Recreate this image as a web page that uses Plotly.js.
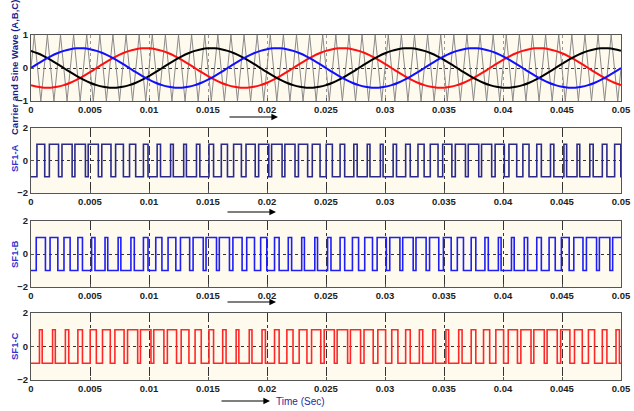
<!DOCTYPE html>
<html>
<head>
<meta charset="utf-8">
<script src="https://cdn.plot.ly/plotly-3.0.1.min.js"></script>
<style>html,body{margin:0;padding:0;background:#fff;}#chart{width:634px;height:411px;}</style>
</head>
<body>
<div id="chart"></div>
<script>
// ---- data ----
// time span of every panel (s) and the tick labels of the x axes
const xTicks = [0, 0.005, 0.01, 0.015, 0.02, 0.025, 0.03, 0.035, 0.04, 0.045, 0.05];
const xTickLabels = ['0', '0.005', '0.01', '0.015', '0.02', '0.025', '0.03', '0.035', '0.04', '0.045', '0.05'];
const sineStep = 0.05 / 90;
const sineA = [0,0.125,0.244,0.353,0.446,0.52,0.571,0.597,0.597,0.571,0.52,0.446,0.353,0.244,0.125,0,-0.125,-0.244,-0.353,-0.446,-0.52,-0.571,-0.597,-0.597,-0.571,-0.52,-0.446,-0.353,-0.244,-0.125,
 0,0.125,0.244,0.353,0.446,0.52,0.571,0.597,0.597,0.571,0.52,0.446,0.353,0.244,0.125,0,-0.125,-0.244,-0.353,-0.446,-0.52,-0.571,-0.597,-0.597,-0.571,-0.52,-0.446,-0.353,-0.244,-0.125,
 0,0.125,0.244,0.353,0.446,0.52,0.571,0.597,0.597,0.571,0.52,0.446,0.353,0.244,0.125,0,-0.125,-0.244,-0.353,-0.446,-0.52,-0.571,-0.597,-0.597,-0.571,-0.52,-0.446,-0.353,-0.244,-0.125,0];
const sineB = [0.52,0.446,0.353,0.244,0.125,0,-0.125,-0.244,-0.353,-0.446,-0.52,-0.571,-0.597,-0.597,-0.571,-0.52,-0.446,-0.353,-0.244,-0.125,0,0.125,0.244,0.353,0.446,0.52,0.571,0.597,0.597,0.571,
 0.52,0.446,0.353,0.244,0.125,0,-0.125,-0.244,-0.353,-0.446,-0.52,-0.571,-0.597,-0.597,-0.571,-0.52,-0.446,-0.353,-0.244,-0.125,0,0.125,0.244,0.353,0.446,0.52,0.571,0.597,0.597,0.571,
 0.52,0.446,0.353,0.244,0.125,0,-0.125,-0.244,-0.353,-0.446,-0.52,-0.571,-0.597,-0.597,-0.571,-0.52,-0.446,-0.353,-0.244,-0.125,0,0.125,0.244,0.353,0.446,0.52,0.571,0.597,0.597,0.571,0.52];
const sineC = [-0.52,-0.571,-0.597,-0.597,-0.571,-0.52,-0.446,-0.353,-0.244,-0.125,0,0.125,0.244,0.353,0.446,0.52,0.571,0.597,0.597,0.571,0.52,0.446,0.353,0.244,0.125,0,-0.125,-0.244,-0.353,-0.446,
 -0.52,-0.571,-0.597,-0.597,-0.571,-0.52,-0.446,-0.353,-0.244,-0.125,0,0.125,0.244,0.353,0.446,0.52,0.571,0.597,0.597,0.571,0.52,0.446,0.353,0.244,0.125,0,-0.125,-0.244,-0.353,-0.446,
 -0.52,-0.571,-0.597,-0.597,-0.571,-0.52,-0.446,-0.353,-0.244,-0.125,0,0.125,0.244,0.353,0.446,0.52,0.571,0.597,0.597,0.571,0.52,0.446,0.353,0.244,0.125,0,-0.125,-0.244,-0.353,-0.446,-0.52];
// triangular carrier: 45 periods in 0.05 s, swinging between +1 and -1, starting at 0
const carrierPeriod = 0.05 / 45;
const carrierHigh = 1;
const carrierLow = -1;
// width (microseconds) of the +1 pulse in each carrier period, per switching function
const widthA = [659,779,860,889,860,779,659,521,389,286,230,230,286,389,521,
                659,779,860,889,860,779,659,521,389,286,230,230,286,389,521,
                659,779,860,889,860,779,659,521,389,286,230,230,286,389,521];
const widthB = [779,659,521,389,286,230,230,286,389,521,659,779,860,889,860,
                779,659,521,389,286,230,230,286,389,521,659,779,860,889,860,
                779,659,521,389,286,230,230,286,389,521,659,779,860,889,860];
const widthC = [230,230,286,389,521,659,779,860,889,860,779,659,521,389,286,
                230,230,286,389,521,659,779,860,889,860,779,659,521,389,286,
                230,230,286,389,521,659,779,860,889,860,779,659,521,389,286];
const swHigh = 1, swLow = -1;

// ---- build traces ----
const tSine = sineA.map((_, i) => i * sineStep);
const cx = [0], cy = [0];
for (let j = 0; j < 90; j++) {
  cx.push(carrierPeriod / 4 + j * carrierPeriod / 2);
  cy.push(j % 2 === 0 ? carrierHigh : carrierLow);
}
cx.push(0.05); cy.push(0);

function pwm(widths) {
  const x = [0], y = [swLow];
  widths.forEach((w, k) => {
    const c = (k + 0.75) * carrierPeriod;
    const h = w * 1e-6 / 2;
    x.push(c - h, c - h, c + h, c + h);
    y.push(swLow, swHigh, swHigh, swLow);
  });
  x.push(0.05); y.push(swLow);
  return {x, y};
}
const pA = pwm(widthA), pB = pwm(widthB), pC = pwm(widthC);

const traces = [
  {x: cx, y: cy, xaxis: 'x', yaxis: 'y', mode: 'lines', line: {color: '#8a8a8a', width: 1}},
  {x: tSine, y: sineC, xaxis: 'x', yaxis: 'y', mode: 'lines', line: {color: '#ff1010', width: 2, shape: 'spline'}},
  {x: tSine, y: sineB, xaxis: 'x', yaxis: 'y', mode: 'lines', line: {color: '#000000', width: 2, shape: 'spline'}},
  {x: tSine, y: sineA, xaxis: 'x', yaxis: 'y', mode: 'lines', line: {color: '#1010ff', width: 2, shape: 'spline'}},
  {x: pA.x, y: pA.y, xaxis: 'x2', yaxis: 'y2', mode: 'lines', line: {color: '#2a2a8c', width: 1.6}},
  {x: pB.x, y: pB.y, xaxis: 'x3', yaxis: 'y3', mode: 'lines', line: {color: '#1e1ef5', width: 1.6}},
  {x: pC.x, y: pC.y, xaxis: 'x4', yaxis: 'y4', mode: 'lines', line: {color: '#ff2828', width: 1.6}}
];

const tickFont = {family: 'Liberation Sans Narrow, Arial Narrow, Liberation Sans, Arial', size: 9.5, color: '#222', weight: 'bold'};
function xax(anchor, gc, gd) {
  return {anchor: anchor, range: [0, 0.05], tickvals: xTicks, ticktext: xTickLabels, tickfont: tickFont,
    showline: true, mirror: true, linecolor: '#555', linewidth: 1, showgrid: true, gridcolor: gc,
    griddash: gd, gridwidth: 1, ticks: 'inside', ticklen: 3, tickcolor: '#555', zeroline: false, fixedrange: true};
}
function yax(anchor, dom, r, tv) {
  return {anchor: anchor, domain: dom, range: r, tickvals: tv, tickfont: tickFont,
    showline: true, mirror: true, linecolor: '#555', linewidth: 1, showgrid: true, gridcolor: '#333',
    griddash: 'dot', gridwidth: 1, ticks: 'inside', ticklen: 3, tickcolor: '#555', zeroline: false, fixedrange: true};
}
const px = v => (v - 31) / 590;
const py = v => (380 - v) / 345;
const labFont = {family: 'Liberation Sans, Arial', size: 9.5, weight: 'bold'};
function arrow(xh, yh) {
  return {xref: 'paper', yref: 'paper', x: px(xh), y: py(yh), ax: -50, ay: 0, text: '', showarrow: true,
    arrowhead: 2, arrowsize: 1.1, arrowwidth: 1.2, arrowcolor: '#000'};
}
function vlabel(txt, yc, color) {
  return {xref: 'paper', yref: 'paper', x: px(14), y: py(yc), xanchor: 'center', yanchor: 'middle',
    text: txt, textangle: -90, showarrow: false, font: Object.assign({color: color}, labFont)};
}
const layout = {
  width: 634, height: 411,
  margin: {l: 31, r: 13, t: 35, b: 31},
  paper_bgcolor: '#ffffff', plot_bgcolor: '#fffaee',
  showlegend: false,
  xaxis: xax('y', '#999', 'dot'), xaxis2: xax('y2', '#333', 'dashdot'), xaxis3: xax('y3', '#333', 'dashdot'), xaxis4: xax('y4', '#333', 'dashdot'),
  yaxis: yax('x', [py(101), 1], [-1, 1], [-1, 0, 1]),
  yaxis2: yax('x2', [py(193), py(128)], [-2, 2], [-2, 0, 2]),
  yaxis3: yax('x3', [py(287), py(221)], [-2, 2], [-2, 0, 2]),
  yaxis4: yax('x4', [0, py(313)], [-2, 2], [-2, 0, 2]),
  annotations: [
    vlabel('Carrier and Sine Wave (A,B,C)', 68, '#1c1c8c'),
    vlabel('SF1-A', 158, '#3434d0'),
    vlabel('SF1-B', 254, '#3434d0'),
    vlabel('SF1-C', 346, '#3434d0'),
    arrow(278, 117), arrow(276, 212), arrow(276, 302), arrow(270, 401),
    {xref: 'paper', yref: 'paper', x: px(274), y: py(401), xanchor: 'left', yanchor: 'middle', text: 'Time (Sec)', showarrow: false,
     font: {family: 'Liberation Sans, Arial', size: 10, color: '#2a2a9a'}}
  ]
};
Plotly.newPlot('chart', traces, layout, {staticPlot: true, displayModeBar: false});
</script>
</body>
</html>
